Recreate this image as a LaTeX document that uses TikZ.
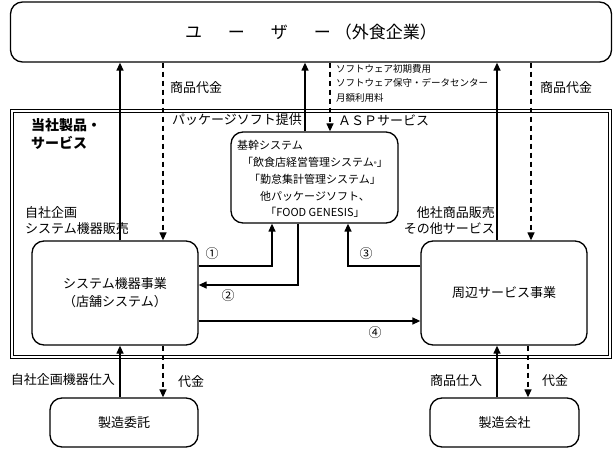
\documentclass[tikz,border=0pt]{standalone}
\usepackage{fontspec}
\setmainfont{Noto Sans CJK JP}
\usetikzlibrary{arrows.meta}
\begin{document}
\begin{tikzpicture}[x=1pt,y=-1pt,
  box/.style={draw, line width=1.3pt, rounded corners=12pt, align=center, inner sep=0pt},
  sarrow/.style={line width=1.3pt, -{Triangle[length=8pt,width=7pt]}},
  darrow/.style={sarrow, dash pattern=on 5pt off 4pt},
  lbl/.style={font=\fontsize{13}{16}\selectfont, inner sep=0pt, align=left},
  small/.style={font=\fontsize{9.5}{14.5}\selectfont, inner sep=0pt, align=left},
  ktext/.style={font=\fontsize{11}{16.8}\selectfont, inner sep=0pt},
  boxtext/.style={font=\fontsize{13}{18}\selectfont}
]
\useasboundingbox (0,0) rectangle (613,449);
% frame
\draw[line width=1pt] (10,110) rectangle (611.5,358);
\draw[line width=1pt] (13,113) rectangle (608.5,355);
% boxes
\node[box, minimum width=601pt, minimum height=60pt, font=\fontsize{17}{20}\selectfont] (user) at (311,32)
  {ユ\hspace{26pt}ー\hspace{26pt}ザ\hspace{26pt}ー\hspace{4pt}（外食企業）};
\node[box, minimum width=167pt, minimum height=91pt] (kikan) at (314.5,177.5) {};
\node[box, boxtext, minimum width=166pt, minimum height=104pt] (sys) at (115,293) {システム機器事業\\（店舗システム）};
\node[box, boxtext, minimum width=166pt, minimum height=104pt] (shu) at (504,293) {周辺サービス事業};
\node[box, boxtext, minimum width=148pt, minimum height=49pt] (itaku) at (124,422.5) {製造委託};
\node[box, boxtext, minimum width=149pt, minimum height=49pt] (kaisha) at (504.5,422.5) {製造会社};
% kikan text
\node[ktext, anchor=west] (k1) at (237,145) {基幹システム};
\node[ktext, align=center] (k2) at (315,187.5) {「飲食店経営管理システム{\fontsize{6}{6}\selectfont ®}」\\「勤怠集計管理システム」\\他パッケージソフト、\\「FOOD GENESIS」};
% vertical arrows top
\draw[sarrow] (120,0 |- sys.north) -- (120,0 |- user.south);
\draw[darrow] (163,0 |- user.south) -- (163,0 |- sys.north);
\draw[sarrow] (305,0 |- kikan.north) -- (305,0 |- user.south);
\draw[darrow] (330,0 |- user.south) -- (330,0 |- kikan.north);
\draw[sarrow] (497,0 |- shu.north) -- (497,0 |- user.south);
\draw[darrow] (531,0 |- user.south) -- (531,0 |- shu.north);
% middle arrows
\draw[sarrow] (sys.east |- 0,266) -| (272,0 |- kikan.south);
\draw[sarrow] (298,0 |- kikan.south) |- (sys.east |- 0,285);
\draw[sarrow] (shu.west |- 0,266) -| (348,0 |- kikan.south);
\draw[sarrow] (sys.east |- 0,321) -- (shu.west |- 0,321);
% bottom arrows
\draw[sarrow] (120,0 |- itaku.north) -- (120,0 |- sys.south);
\draw[darrow] (163,0 |- sys.south) -- (163,0 |- itaku.north);
\draw[sarrow] (497,0 |- kaisha.north) -- (497,0 |- shu.south);
\draw[darrow] (528,0 |- shu.south) -- (528,0 |- kaisha.north);
% labels
\node[lbl, anchor=west] (l1) at (170,88) {商品代金};
\node[lbl, anchor=west] (l2) at (540,88) {商品代金};
\node[small, anchor=north west] (l3) at (336,64) {ソフトウェア初期費用\\ソフトウェア保守・データセンター\\月額利用料};
\node[lbl, anchor=east] (l4) at (302,120) {パッケージソフト提供};
\node[lbl, anchor=west] (l5) at (338,120) {ＡＳＰサービス};
\node[inner sep=0pt, align=left, anchor=north west, font=\fontsize{14}{18}\selectfont\bfseries] (l6) at (31,118) {当社製品・\\サービス};
\node[lbl, anchor=west] (l7) at (25,221) {自社企画\\システム機器販売};
\node[lbl, anchor=east, align=right] (l8) at (495,221) {他社商品販売\\その他サービス};
\node[lbl] (n1) at (212,254) {①};
\node[lbl] (n2) at (228,296) {②};
\node[lbl] (n3) at (366,254) {③};
\node[lbl] (n4) at (375,333) {④};
\node[lbl, anchor=east] (l9) at (115,380) {自社企画機器仕入};
\node[lbl, anchor=west] (l10) at (178,382) {代金};
\node[lbl, anchor=west] (l11) at (430,381) {商品仕入};
\node[lbl, anchor=west] (l12) at (542,381) {代金};
\end{tikzpicture}
\end{document}
